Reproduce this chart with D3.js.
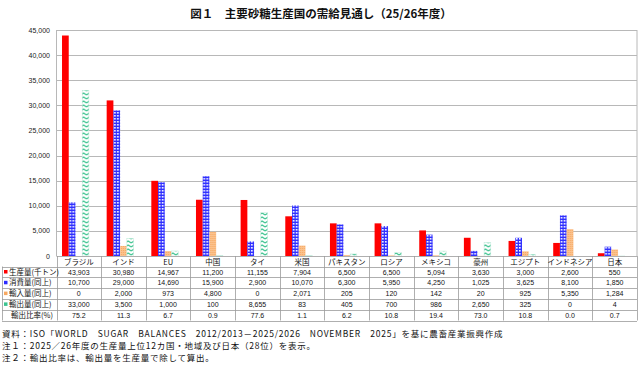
<!DOCTYPE html>
<html>
<head>
<meta charset="utf-8">
<script src="https://cdn.jsdelivr.net/npm/d3@7"></script>
<style>
  body { margin: 0; background: #fff; }
  svg { display: block; font-family: "Noto Sans CJK JP", "Noto Sans", sans-serif; }
</style>
</head>
<body>
<div id="chart"></div>
<script>
var countries = ["ブラジル", "インド", "EU", "中国", "タイ", "米国", "パキスタン", "ロシア", "メキシコ", "豪州", "エジプト", "インドネシア", "日本"];
var production = [43903, 30980, 14967, 11200, 11155, 7904, 6500, 6500, 5094, 3630, 3000, 2600, 550];
var consumption = [10700, 29000, 14690, 15900, 2900, 10070, 6300, 5950, 4250, 1025, 3625, 8100, 1850];
var imports = [0, 2000, 973, 4800, 0, 2071, 205, 120, 142, 20, 925, 5350, 1284];
var exportsVol = [33000, 3500, 1000, 100, 8655, 83, 405, 700, 986, 2650, 325, 0, 4];
var exportRatio = [75.2, 11.3, 6.7, 0.9, 77.6, 1.1, 6.2, 10.8, 19.4, 73.0, 10.8, 0.0, 0.7];
var seriesNames = ["生産量(千トン)", "消費量(同上)", "輸入量(同上)", "輸出量(同上)", "輸出比率(%)"];
var yTicks = [0, 5000, 10000, 15000, 20000, 25000, 30000, 35000, 40000, 45000];

var w = 640, h = 366;
var plotLeft = 56.5, plotRight = 637, plotTop = 30, plotBottom = 256;
var rowH = 10.8;

var svg = d3.select("#chart").append("svg")
  .attr("width", w)
  .attr("height", h);

// patterns
var defs = svg.append("defs");
var pBlue = defs.append("pattern").attr("id", "pBlue")
  .attr("patternUnits", "userSpaceOnUse").attr("width", 3).attr("height", 3);
pBlue.append("rect").attr("width", 3).attr("height", 3).attr("fill", "#3030ff");
pBlue.append("rect").attr("x", 1).attr("y", 1).attr("width", 1.6).attr("height", 1.6).attr("fill", "#fff");

var pOrange = defs.append("pattern").attr("id", "pOrange")
  .attr("patternUnits", "userSpaceOnUse").attr("width", 2).attr("height", 2);
pOrange.append("rect").attr("width", 2).attr("height", 2).attr("fill", "#fbc28e");
pOrange.append("rect").attr("width", 1).attr("height", 1).attr("fill", "#f6a860");

var pGreen = defs.append("pattern").attr("id", "pGreen")
  .attr("patternUnits", "userSpaceOnUse").attr("width", 6).attr("height", 4);
pGreen.append("rect").attr("width", 6).attr("height", 4).attr("fill", "#fff");
pGreen.append("path").attr("d", "M0,3 L3,1 L6,3").attr("fill", "none")
  .attr("stroke", "#3cc38f").attr("stroke-width", 1.1);

var fills = ["#ff0000", "url(#pBlue)", "url(#pOrange)", "url(#pGreen)"];
var legendFills = ["#ff0000", "#2b2bff", "#f7a860", "#3cc38f"];
var series = [production, consumption, imports, exportsVol];

var x0 = d3.scaleBand().domain(countries).range([plotLeft, plotRight]).padding(0);
var x1 = d3.scaleBand().domain(d3.range(5)).range([0, x0.bandwidth()]).paddingOuter(0.82).paddingInner(0);
var y = d3.scaleLinear().domain([0, 45000]).range([plotBottom, plotTop]);

// title
svg.append("text")
  .attr("x", 321).attr("y", 18)
  .attr("text-anchor", "middle")
  .attr("font-size", "11.5px").attr("font-weight", "bold")
  .attr("fill", "#111")
  .text("図１　主要砂糖生産国の需給見通し（25/26年度）");

// grid
svg.append("g").selectAll("line")
  .data(yTicks.filter(function(d) { return d > 0; }))
  .enter().append("line")
  .attr("x1", plotLeft).attr("x2", plotRight)
  .attr("y1", function(d) { return Math.round(y(d)) + 0.5; })
  .attr("y2", function(d) { return Math.round(y(d)) + 0.5; })
  .attr("stroke", "#b8b8b8");

svg.append("line")
  .attr("x1", plotLeft).attr("x2", plotLeft).attr("y1", plotTop).attr("y2", plotBottom)
  .attr("stroke", "#b8b8b8");
svg.append("line")
  .attr("x1", plotRight).attr("x2", plotRight).attr("y1", plotTop).attr("y2", plotBottom)
  .attr("stroke", "#b8b8b8");

// y axis labels
svg.append("g").selectAll("text")
  .data(yTicks)
  .enter().append("text")
  .attr("x", 50)
  .attr("y", function(d) { return y(d) + 2.5; })
  .attr("text-anchor", "end")
  .attr("font-size", "7px")
  .attr("font-family", "'Liberation Sans', Arial, sans-serif")
  .attr("fill", "#222")
  .text(function(d) { return d3.format(",")(d); });

// bars
var groups = svg.append("g").selectAll("g")
  .data(countries)
  .enter().append("g")
  .attr("transform", function(d) { return "translate(" + x0(d) + ",0)"; });

groups.selectAll("rect")
  .data(function(d, i) { return series.map(function(s, k) { return { k: k, v: s[i] }; }); })
  .enter().append("rect")
  .attr("x", function(d) { return x1(d.k); })
  .attr("width", x1.bandwidth())
  .attr("y", function(d) { return y(d.v); })
  .attr("height", function(d) { return plotBottom - y(d.v); })
  .attr("fill", function(d) { return fills[d.k]; })
  .attr("stroke", function(d) { return d.k === 3 ? "#bfe9d9" : "none"; })
  .attr("stroke-width", 0.5);

// table
var tableLeft = 2;
var tableRight = plotRight;
var tableTop = plotBottom;
var rows = [production, consumption, imports, exportsVol, exportRatio];
var tg = svg.append("g");

tg.selectAll("line.h")
  .data(d3.range(7))
  .enter().append("line")
  .attr("class", "h")
  .attr("x1", function(d) { return d === 0 ? plotLeft : tableLeft; })
  .attr("x2", tableRight)
  .attr("y1", function(d) { return Math.round(tableTop + (d === 0 ? 0 : 10.5 + (d - 1) * rowH)) + 0.5; })
  .attr("y2", function(d) { return Math.round(tableTop + (d === 0 ? 0 : 10.5 + (d - 1) * rowH)) + 0.5; })
  .attr("stroke", "#9a9a9a")
  .attr("stroke-width", 0.8);

var vx = [tableLeft, plotLeft].concat(countries.map(function(c) { return x0(c) + x0.bandwidth(); }));
tg.selectAll("line.v")
  .data(vx)
  .enter().append("line")
  .attr("class", "v")
  .attr("x1", function(d) { return Math.round(d) + 0.5; })
  .attr("x2", function(d) { return Math.round(d) + 0.5; })
  .attr("y1", function(d, i) { return i === 0 ? tableTop + 10.5 : tableTop; })
  .attr("y2", tableTop + 10.5 + 5 * rowH)
  .attr("stroke", "#9a9a9a")
  .attr("stroke-width", 0.8);

tg.selectAll("text.cat")
  .data(countries)
  .enter().append("text")
  .attr("class", "cat")
  .attr("x", function(d) { return x0(d) + x0.bandwidth() / 2; })
  .attr("y", tableTop + 8.5)
  .attr("text-anchor", "middle")
  .attr("font-size", "7.5px")
  .attr("fill", "#111")
  .text(function(d) { return d; });

rows.forEach(function(r, i) {
  var ry = tableTop + 10.5 + i * rowH;
  if (i < 4) {
    tg.append("rect")
      .attr("x", 4).attr("y", ry + 3.5)
      .attr("width", 3.5).attr("height", 3.5)
      .attr("fill", legendFills[i]);
  }
  tg.append("text")
    .attr("x", i < 4 ? 9 : 11)
    .attr("y", ry + 8)
    .attr("font-size", "7.5px")
    .attr("fill", "#111")
    .text(seriesNames[i]);

  tg.append("g").selectAll("text")
    .data(r)
    .enter().append("text")
    .attr("x", function(d, j) { return x0(countries[j]) + x0.bandwidth() / 2; })
    .attr("y", ry + 8)
    .attr("text-anchor", "middle")
    .attr("font-size", "7px")
    .attr("font-family", "'Liberation Sans', Arial, sans-serif")
    .attr("fill", "#111")
    .text(function(d) { return i === 4 ? d3.format(".1f")(d) : d3.format(",")(d); });
});

// notes
var notes = [
  "資料：ISO「WORLD　SUGAR　BALANCES　2012/2013－2025/2026　NOVEMBER　2025」を基に農畜産業振興作成",
  "注１：2025／26年度の生産量上位12カ国・地域及び日本（28位）を表示。",
  "注２：輸出比率は、輸出量を生産量で除して算出。"
];
svg.append("g").selectAll("text")
  .data(notes)
  .enter().append("text")
  .attr("x", 2)
  .attr("y", function(d, i) { return 336.5 + i * 12.4; })
  .attr("font-size", "8.5px")
  .attr("letter-spacing", "0.75px")
  .attr("fill", "#111")
  .text(function(d) { return d; });
</script>
</body>
</html>
